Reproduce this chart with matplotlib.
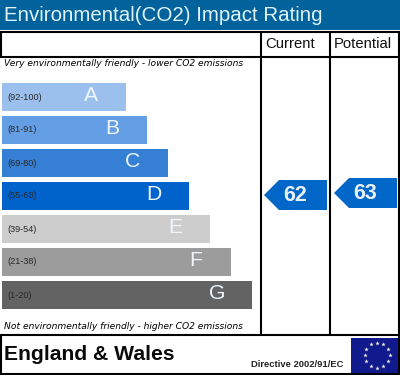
import matplotlib
matplotlib.use("Agg")
import numpy as np
import matplotlib.pyplot as plt
from matplotlib.patches import Polygon, Rectangle

title = "Environmental(CO2) Impact Rating"
bands = ["A", "B", "C", "D", "E", "F", "G"]
ranges = ["(92-100)", "(81-91)", "(69-80)", "(55-68)", "(39-54)", "(21-38)", "(1-20)"]
bar_lengths = [124, 145, 166, 187, 208, 229, 250]
bar_colors = ["#9cc0ee", "#649ee4", "#3580d4", "#0063cc", "#cdcdcd", "#9c9c9c", "#636363"]
columns = ["Current", "Potential"]
ratings = [62, 63]

plt.rcParams["font.family"] = ["Liberation Sans", "DejaVu Sans"]
fig = plt.figure(figsize=(4, 3.75), dpi=100)
ax = fig.add_axes([0, 0, 1, 1])
ax.set_xlim(0, 400)
ax.set_ylim(375, 0)
ax.axis("off")

ax.add_patch(Rectangle((0, 0), 400, 30, color="#02629c", lw=0))
ax.text(4, 15.5, title, color="#dff3f8", fontsize=14.8, va="center", ha="left")

# frame
for (x0, y0, x1, y1) in [(0, 32, 400, 32), (0, 56.5, 400, 56.5), (0, 335, 400, 335),
                         (0, 373.5, 400, 373.5), (0.5, 31, 0.5, 57), (398.5, 31, 398.5, 375),
                         (0.5, 335, 0.5, 375), (260.5, 31, 260.5, 335), (330, 31, 330, 335)]:
    ax.plot([x0, x1], [y0, y1], color="black", lw=1.5, solid_capstyle="butt")

ax.text(290, 44, columns[0], fontsize=10.7, color="#111111", ha="center", va="center")
ax.text(363, 44, columns[1], fontsize=10.7, color="#111111", ha="center", va="center")

ax.text(4, 63.5, "Very environmentally friendly - lower CO2 emissions", fontsize=6.6,
        family="DejaVu Sans", style="italic", va="center", color="black", weight="medium")
ax.text(4, 326.5, "Not environmentally friendly - higher CO2 emissions", fontsize=6.6,
        family="DejaVu Sans", style="italic", va="center", color="black", weight="medium")

rows = np.arange(len(bands))
tops = 83 + rows * 33
ax.barh(tops + 14, bar_lengths, height=28, left=2, color=bar_colors, lw=0)
for top, length, band, rng in zip(tops, bar_lengths, bands, ranges):
    ax.text(7, top + 14, rng, fontsize=6.6, color="#2a2a2a", va="center")
    ax.text(length - 33, top + 12.5, band, fontsize=15.2, color="#eef6fb", va="center", ha="center")

# rating arrows
for x0, y0, h, val in [(264, 180, 30, ratings[0]), (334, 178, 30, ratings[1])]:
    ax.add_patch(Polygon([(x0, y0 + h / 2), (x0 + 15, y0), (x0 + 63, y0), (x0 + 63, y0 + h),
                          (x0 + 15, y0 + h)], closed=True, color="#0066c8", lw=0))
    ax.text(x0 + 31, y0 + h / 2 + 0.5, str(val), fontsize=15.5, weight="bold", color="#e8f2fa",
            ha="center", va="center")

ax.text(4.5, 355, "England & Wales", fontsize=15.2, weight="bold", color="#0a0a0a", va="center")
ax.text(343.5, 364.5, "Directive 2002/91/EC", fontsize=6.75, weight="bold",
        color="#222222", va="center", ha="right")

# EU flag
ax.add_patch(Rectangle((351, 338), 47, 35, color="#111a8c", lw=0))
angles = np.deg2rad(np.arange(0, 360, 30))
ax.scatter(377 + 12.5 * np.cos(angles), 355 + 12.5 * np.sin(angles), s=11, marker="*",
           color="#f4f4e8", lw=0)

fig.savefig("out.png", dpi=100)
